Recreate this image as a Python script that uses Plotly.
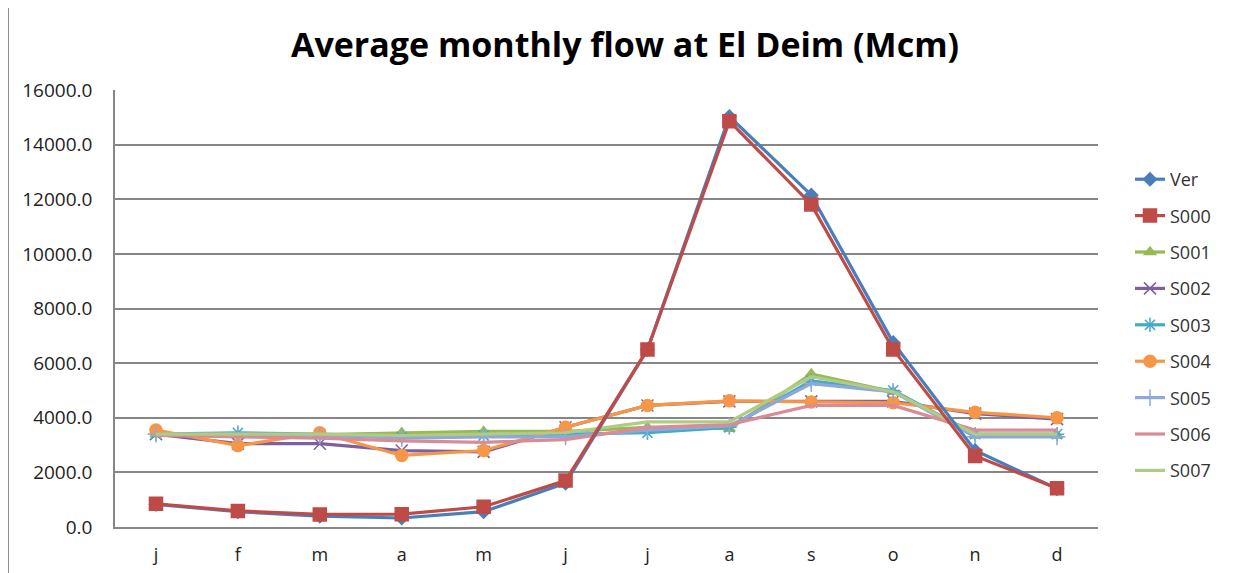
import plotly.graph_objects as go

months = ['j', 'f', 'm', 'a', 'm', 'j', 'j', 'a', 's', 'o', 'n', 'd']
ver = [830, 560, 400, 330, 560, 1600, 6500, 15030, 12150, 6750, 2800, 1400]
s000 = [850, 590, 460, 470, 740, 1700, 6500, 14860, 11810, 6500, 2600, 1420]
s001 = [3400, 3350, 3380, 3450, 3500, 3500, 3650, 3600, 5600, 4950, 3350, 3350]
s002 = [3400, 3050, 3050, 2800, 2750, 3650, 4450, 4600, 4600, 4600, 4150, 3950]
s003 = [3400, 3450, 3400, 3300, 3350, 3400, 3450, 3650, 5350, 5000, 3400, 3400]
s004 = [3550, 2980, 3450, 2620, 2800, 3650, 4450, 4620, 4580, 4550, 4200, 4000]
s005 = [3400, 3400, 3350, 3250, 3300, 3300, 3550, 3700, 5250, 4950, 3300, 3300]
s006 = [3350, 3300, 3250, 3150, 3100, 3200, 3650, 3750, 4450, 4450, 3550, 3550]
s007 = [3400, 3400, 3400, 3350, 3400, 3450, 3850, 3850, 5500, 4950, 3400, 3400]
y_ticks = [0, 2000, 4000, 6000, 8000, 10000, 12000, 14000, 16000]

series = [
    ("Ver", ver, "#4A7EBB", "diamond", 10),
    ("S000", s000, "#BE4B48", "square", 13),
    ("S001", s001, "#98B954", "triangle-up", 10),
    ("S002", s002, "#7D60A0", "x-thin-open", 12),
    ("S003", s003, "#46AAC5", "asterisk-open", 12),
    ("S004", s004, "#F79646", "circle", 12),
    ("S005", s005, "#8FA8DC", "cross-thin-open", 12),
    ("S006", s006, "#DA8B95", None, 0),
    ("S007", s007, "#B1CB84", None, 0),
]

# drawing order: group series first, then Ver, then S000 on top
draw_order = [2, 3, 4, 5, 6, 7, 8, 0, 1]

FONT = "Open Sans"
x_idx = list(range(len(months)))
fig = go.Figure()
for i in draw_order:
    name, vals, col, sym, size = series[i]
    mode = "lines+markers" if sym else "lines"
    kw = {}
    if sym:
        kw["marker"] = dict(symbol=sym, size=size, color=col,
                            line=dict(color=col, width=1.5))
    fig.add_trace(go.Scatter(
        x=x_idx, y=vals, name=name, mode=mode, legendrank=i + 1,
        line=dict(color=col, width=3.2), legendgroup=name, **kw))

W, H = 1235, 565
L, R, T, B = 107, 145, 82, 46
pw = W - L - R
ph = H - T - B

fig.update_layout(
    width=W, height=H,
    paper_bgcolor="white", plot_bgcolor="white",
    margin=dict(l=L, r=R, t=T, b=B, autoexpand=False),
    title=dict(text="<b>Average monthly flow at El Deim (Mcm)</b>",
               x=617 / W, xref="container", y=1 - 37 / H, yref="container",
               xanchor="center", yanchor="middle",
               font=dict(family=FONT, size=34, color="#000000")),
    font=dict(family=FONT, size=16, color="#222222"),
    legend=dict(x=(1122 - L) / pw, y=(H - B - 153) / ph, xref="paper", yref="paper",
                xanchor="left", yanchor="top", traceorder="grouped",
                tracegroupgap=10, font=dict(family=FONT, size=18, color="#333333"),
                bgcolor="rgba(0,0,0,0)"),
    showlegend=True,
)
fig.update_xaxes(range=[-0.5, 11.5], tickvals=x_idx, ticktext=months,
                 showgrid=False, showline=True, linecolor="#868686", linewidth=1.5,
                 zeroline=False, ticks="", ticklabelstandoff=11, automargin=False,
                 tickfont=dict(family=FONT, size=18, color="#222222"))
fig.update_yaxes(range=[0, 16000], tickvals=y_ticks, tickformat=".1f",
                 showgrid=True, gridcolor="#868686", gridwidth=1.5,
                 showline=True, linecolor="#868686", linewidth=1.5,
                 zeroline=False, ticks="", ticklabelstandoff=17, automargin=False,
                 tickfont=dict(family=FONT, size=19, color="#222222"))

# outer chart border
fig.add_shape(type="rect", xref="paper", yref="paper",
              x0=(0 - L) / pw, x1=(1233 - L) / pw,
              y0=-0.3, y1=(H - B + 1) / ph,
              line=dict(color="#8C8C8C", width=2), layer="below")

fig.write_html("out.html", config={"displayModeBar": False})
